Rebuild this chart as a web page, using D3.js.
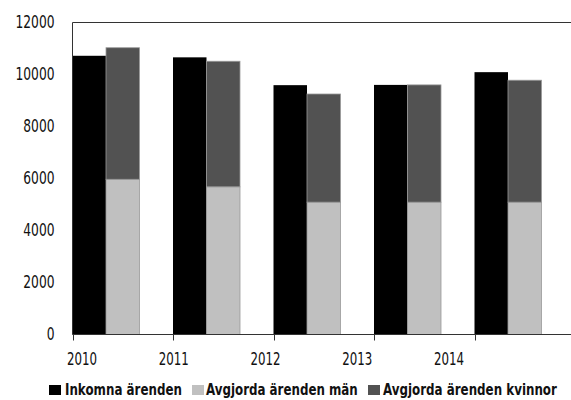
<!DOCTYPE html>
<html>
<head>
<meta charset="utf-8">
<script src="https://cdn.jsdelivr.net/npm/d3@7"></script>
<style>
  html, body { margin: 0; padding: 0; background: #fff; }
  svg { display: block; }
  text { font-family: "DejaVu Sans Condensed", "Liberation Sans Narrow", sans-serif; fill: #111; }
</style>
</head>
<body>
<svg id="chart" width="571" height="400"></svg>
<script>
// Ärenden per år
const years = ["2010", "2011", "2012", "2013", "2014"];
const inkomna = [10720, 10660, 9590, 9600, 10090];
const avgjordaMan = [5970, 5680, 5090, 5090, 5090];
const avgjordaKvinnor = [5060, 4830, 4160, 4510, 4690];
const yTicks = [0, 2000, 4000, 6000, 8000, 10000, 12000];
const seriesNames = ["Inkomna ärenden", "Avgjorda ärenden män", "Avgjorda ärenden kvinnor"];
const seriesColors = ["#000000", "#c0c0c0", "#525252"];

const svg = d3.select("#chart");
const plotLeft = 72.5, plotTop = 22.5, plotBottom = 334.5, bandW = 100.5;
const digitW = 7.8; // smala siffror

const x = d3.scaleBand().domain(years).range([plotLeft, plotLeft + bandW * years.length]).padding(0);
const y = d3.scaleLinear().domain([0, 12000]).range([plotBottom, plotTop]);
const labelX = d3.scalePoint().domain(years).range([82, 449]);

const rows = years.map((yr, i) => ({
  year: yr, inkomna: inkomna[i], man: avgjordaMan[i], kvinnor: avgjordaKvinnor[i]
}));

// Inkomna ärenden
svg.append("g").selectAll("rect").data(rows).join("rect")
  .attr("x", d => x(d.year))
  .attr("width", x.bandwidth() / 3)
  .attr("y", d => y(d.inkomna))
  .attr("height", d => y(0) - y(d.inkomna))
  .attr("fill", seriesColors[0]);

// Avgjorda ärenden, staplade: män underst, kvinnor överst
const stack = d3.stack().keys(["man", "kvinnor"])(rows);
svg.append("g").selectAll("g").data(stack).join("g")
  .attr("fill", (s, i) => seriesColors[i + 1])
  .selectAll("rect").data(s => s).join("rect")
  .attr("x", d => x(d.data.year) + x.bandwidth() / 3)
  .attr("width", x.bandwidth() / 3)
  .attr("y", d => y(d[1]))
  .attr("height", d => y(d[0]) - y(d[1]))
  .attr("stroke", "#9a9a9a")
  .attr("stroke-width", 0.8);

// Ram: överkant och vänster axel
svg.append("line").attr("x1", plotLeft).attr("x2", 571).attr("y1", plotTop).attr("y2", plotTop)
  .attr("stroke", "#333").attr("stroke-width", 1);
svg.append("line").attr("x1", plotLeft).attr("x2", plotLeft).attr("y1", plotTop).attr("y2", plotBottom)
  .attr("stroke", "#333").attr("stroke-width", 1);

// X-axel med streck vid kategorigränserna
svg.append("line").attr("x1", plotLeft).attr("x2", 571).attr("y1", plotBottom).attr("y2", plotBottom)
  .attr("stroke", "#333").attr("stroke-width", 1);
svg.append("g").selectAll("line").data(years).join("line")
  .attr("x1", d => Math.round(x(d)) + 0.5).attr("x2", d => Math.round(x(d)) + 0.5)
  .attr("y1", plotBottom).attr("y2", plotBottom + 6)
  .attr("stroke", "#333").attr("stroke-width", 1);

// Y-axel
const yAxis = svg.append("g").attr("transform", `translate(${plotLeft},0)`)
  .call(d3.axisLeft(y).tickValues(yTicks).tickFormat(d3.format("d")).tickSize(0).tickPadding(18));
yAxis.select(".domain").remove();
yAxis.selectAll("text").attr("font-size", 17)
  .style("font-family", '"DejaVu Sans Condensed", "Liberation Sans Narrow", sans-serif')
  .attr("fill", "#111")
  .attr("textLength", d => String(d).length * digitW)
  .attr("lengthAdjust", "spacingAndGlyphs");

// Årtal
svg.append("g").selectAll("text").data(years).join("text")
  .attr("x", d => labelX(d) - 15).attr("y", 365)
  .attr("font-size", 18)
  .attr("textLength", 30).attr("lengthAdjust", "spacingAndGlyphs")
  .text(d => d);

// Teckenförklaring: texten trycks ihop horisontellt till önskad bredd
const legendItems = [
  { sx: 49, tx: 65, w: 117 },
  { sx: 192, tx: 206, w: 152 },
  { sx: 368, tx: 383, w: 174 }
];
const lg = svg.append("g");
seriesNames.forEach((name, i) => {
  const it = legendItems[i];
  lg.append("rect").attr("x", it.sx).attr("y", 385).attr("width", 12).attr("height", 10)
    .attr("fill", seriesColors[i]);
  const t = lg.append("text")
    .attr("font-size", 15).attr("font-weight", "bold")
    .text(name);
  const natural = t.node().getComputedTextLength();
  t.attr("transform", `translate(${it.tx},395) scale(${it.w / natural},1)`);
});
</script>
</body>
</html>
